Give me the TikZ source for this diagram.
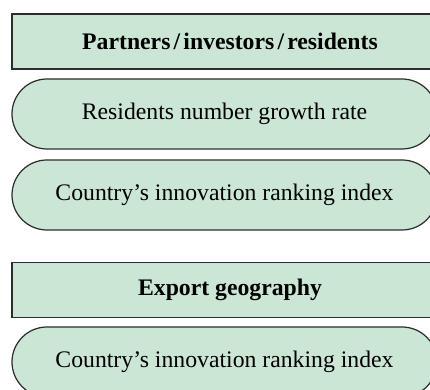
\documentclass[tikz,border=0pt]{standalone}
\usepackage{fontspec}
\setmainfont{Liberation Serif}
\definecolor{paleGreen}{RGB}{204,230,213}
\definecolor{edgeGray}{RGB}{45,45,45}
\newcommand{\slashsep}{\hspace{1.8pt}/\hspace{1.8pt}}
\begin{document}
\begin{tikzpicture}[
    headbox/.style={draw=edgeGray, fill=paleGreen, line width=0.7pt, minimum width=8.72cm, minimum height=1.1cm, inner sep=0pt, font=\fontsize{13.5}{16}\selectfont\bfseries},
    itembox/.style={draw=edgeGray, fill=paleGreen, line width=0.7pt, rounded corners=0.7cm, minimum width=8.5cm, minimum height=1.4cm, inner sep=0pt, font=\fontsize{13.5}{16}\selectfont}
]
    \useasboundingbox (0,0) rectangle (8.6,7.8);
    \clip (0,0) rectangle (8.6,7.8);

    % Partners / investors / residents
    \node[headbox] (partners) at (4.6,6.97) {Partners\slashsep investors\slashsep residents};
    \node[itembox] (growth) at (4.49,5.52) {Residents number growth rate};
    \node[itembox] (rankA) at (4.49,3.9) {Country’s innovation ranking index};

    % Export geography
    \node[headbox] (export) at (4.6,2.0) {Export geography};
    \node[itembox] (rankB) at (4.49,0.56) {Country’s innovation ranking index};
\end{tikzpicture}
\end{document}
